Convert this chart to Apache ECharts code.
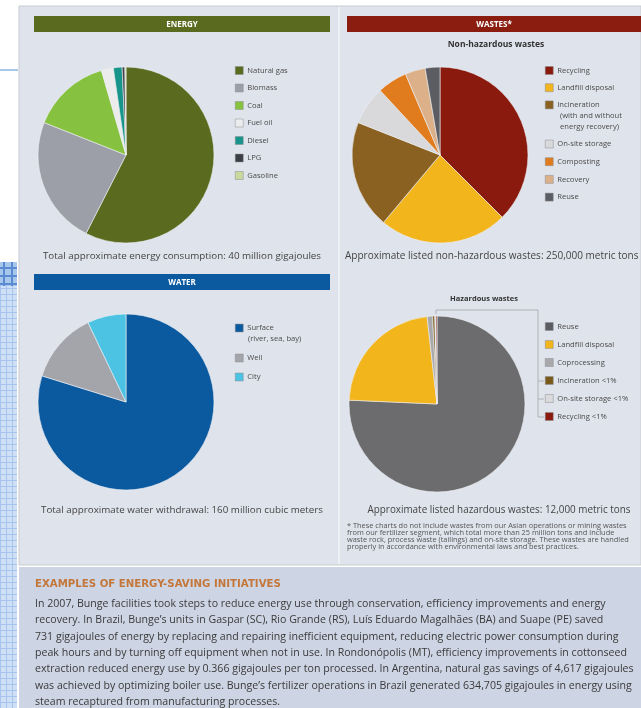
<!DOCTYPE html>
<html><head><meta charset="utf-8">
<script src="https://cdn.jsdelivr.net/npm/echarts@6/dist/echarts.min.js"></script>
<style>html,body{margin:0;padding:0;background:#fff;}#c{width:641px;height:708px;}</style>
</head><body><div id="c"></div><script>
// ---------- data ----------
const energyNames = ['Natural gas','Biomass','Coal','Fuel oil','Diesel','LPG','Gasoline'];
const energyValues = [57.5,23.5,14.5,2.2,1.6,0.5,0.2];
const energyColors = ['#5a6a1e','#9d9fa8','#86c23f','#ececec','#17958a','#3c3e46','#c9d89c'];

const nonHazNames = ['Recycling','Landfill disposal','Incineration','On-site storage','Composting','Recovery','Reuse'];
const nonHazValues = [37.5,23.6,19.9,7.1,5.5,3.7,2.7];
const nonHazColors = ['#8a1a0e','#f2b51b','#8a6120','#d9d9db','#e07c1e','#dcb088','#5c5d63'];

const waterNames = ['Surface','Well','City'];
const waterValues = [79.8,13.1,7.1];
const waterColors = ['#0b5aa0','#a3a5ab','#4dc3e3'];

const hazNames = ['Reuse','Landfill disposal','Coprocessing','Incineration <1%','On-site storage <1%','Recycling <1%'];
const hazValues = [75.7,22.5,1.0,0.4,0.2,0.2];
const hazColors = ['#6c6c6e','#f2b51b','#a9a9ab','#7a5a1a','#dadadc','#8a1a0e'];

const bodyLines = [
 'In 2007, Bunge facilities took steps to reduce energy use through conservation, efficiency improvements and energy',
 'recovery. In Brazil, Bunge\u2019s units in Gaspar (SC), Rio Grande (RS), Lu\u00eds Eduardo Magalh\u00e3es (BA) and Suape (PE) saved',
 '731 gigajoules of energy by replacing and repairing inefficient equipment, reducing electric power consumption during',
 'peak hours and by turning off equipment when not in use. In Rondon\u00f3polis (MT), efficiency improvements in cottonseed',
 'extraction reduced energy use by 0.366 gigajoules per ton processed. In Argentina, natural gas savings of 4,617 gigajoules',
 'was achieved by optimizing boiler use. Bunge\u2019s fertilizer operations in Brazil generated 634,705 gigajoules in energy using',
 'steam recaptured from manufacturing processes.'
];
const footLines = [
 '* These charts do not include wastes from our Asian operations or mining wastes',
 'from our fertilizer segment, which total more than 25 million tons and include',
 'waste rock, process waste (tailings) and on-site storage. These wastes are handled',
 'properly in accordance with environmental laws and best practices.'
];

// ---------- helpers ----------
const FONT = 'Open Sans';
function mk(names, values, colors){ return names.map((n,i)=>({name:n, value:values[i], itemStyle:{color:colors[i]}})); }
function pie(name, center, data){
  return {type:'pie', name, center, radius:88, startAngle:90, clockwise:true,
    label:{show:false}, labelLine:{show:false}, emphasis:{scale:false},
    itemStyle:{borderColor:'#eef0f4', borderWidth:0.6}, data};
}
function legend(left, top, names, gap){
  return {orient:'vertical', left, top, data:names, icon:'rect', itemWidth:8, itemHeight:8,
    itemGap:gap, padding:0, selectedMode:true,
    itemStyle:{borderColor:'#8c8c90', borderWidth:0.5},
    textStyle:{fontFamily:FONT, fontSize:7.6, color:'#4a4a4a', lineHeight:9, padding:[0,0,0,-1]}};
}
function txt(x,y,s,o){ return {type:'text', x, y, silent:true, style:Object.assign({text:s, fontFamily:FONT, fontSize:9, fill:'#444', align:'left', verticalAlign:'middle'}, o||{})}; }
function rect(x,y,w,h,fill,o){ return {type:'rect', silent:true, shape:{x,y,width:w,height:h}, style:Object.assign({fill}, o||{})}; }

// pattern for left strip
const pc = document.createElement('canvas'); pc.width=6; pc.height=6;
const g = pc.getContext('2d');
g.fillStyle='#cfe0f6'; g.fillRect(0,0,6,6);
g.fillStyle='#a6c4ec'; g.fillRect(0,0,6,1); g.fillRect(0,0,1,6);
const pc2 = document.createElement('canvas'); pc2.width=8; pc2.height=8;
const g2 = pc2.getContext('2d');
g2.fillStyle='#a9c6ec'; g2.fillRect(0,0,8,8);
g2.fillStyle='#5a8bd0'; g2.fillRect(0,3,8,2); g2.fillRect(3,0,2,8);

const chart = echarts.init(document.getElementById('c'), null, {renderer:'canvas'});
chart.setOption({
  animation:false,
  backgroundColor:'#ffffff',
  graphic:[
    // backgrounds
    rect(0,262,17,446,null,{fill:{image:pc, repeat:'repeat'}}),
    rect(0,262,17,24,null,{fill:{image:pc2, repeat:'repeat'}}),
    rect(0,69,18,2,'#a9c9ea'),
    rect(19,6,622,559,'#dfe3ec',{stroke:'#c9cbd0', lineWidth:1}),
    rect(338,7,2,557,'#eef0f4'),
    rect(19,567,622,141,'#cdd4e3'),
    // headers
    rect(34,16,296,16,'#5a6a1e'),
    txt(182,24.5,'ENERGY',{fill:'#fff', fontWeight:'bold', fontSize:8, align:'center'}),
    rect(347,16,294,16,'#8a1c10'),
    txt(494,24.5,'WASTES*',{fill:'#fff', fontWeight:'bold', fontSize:8, align:'center'}),
    rect(34,274,296,16,'#0b5aa0'),
    txt(182,282.5,'WATER',{fill:'#fff', fontWeight:'bold', fontSize:8, align:'center'}),
    txt(496,45,'Non-hazardous wastes',{fontWeight:'bold', fontSize:8.5, fill:'#333', align:'center'}),
    txt(484,299,'Hazardous wastes',{fontWeight:'bold', fontSize:7.5, fill:'#333', align:'center'}),
    // legend continuation lines
    txt(560,116,'(with and without',{fontSize:7.6, fill:'#4a4a4a'}),
    txt(560,127,'energy recovery)',{fontSize:7.6, fill:'#4a4a4a'}),
    txt(248,339,'(river, sea, bay)',{fontSize:7.6, fill:'#4a4a4a'}),
    // leader line for small hazardous slices
    {type:'polyline', silent:true, shape:{points:[[436,314],[436,310],[538,310],[538,417]]}, style:{stroke:'#a4a6ab', lineWidth:0.8, fill:null}},
    {type:'line', silent:true, shape:{x1:538,y1:381,x2:544,y2:381}, style:{stroke:'#a4a6ab', lineWidth:0.8}},
    {type:'line', silent:true, shape:{x1:538,y1:399,x2:544,y2:399}, style:{stroke:'#a4a6ab', lineWidth:0.8}},
    {type:'line', silent:true, shape:{x1:538,y1:417,x2:544,y2:417}, style:{stroke:'#a4a6ab', lineWidth:0.8}},
    // captions
    txt(182,256,'Total approximate energy consumption: 40 million gigajoules',{align:'center', fontSize:9.8}),
    txt(345,256,'Approximate listed non-hazardous wastes: 250,000 metric tons',{fontSize:10}),
    txt(182,510,'Total approximate water withdrawal: 160 million cubic meters',{align:'center', fontSize:9.8}),
    txt(499,510,'Approximate listed hazardous wastes: 12,000 metric tons',{align:'center', fontSize:9.9}),
    txt(347,536.5,footLines.join('\n'),{fontSize:7.4, lineHeight:6.8, fill:'#555'}),
    // bottom section
    txt(35,584,'EXAMPLES OF ENERGY-SAVING INITIATIVES',{fontFamily:'DejaVu Sans', fontWeight:'bold', fontSize:10.2, fill:'#c4773a'}),
    txt(35,596,bodyLines.join('\n'),{fontSize:10.6, lineHeight:16.3, fill:'#3a3a3a', verticalAlign:'top'})
  ],
  legend:[
    legend(235,66,energyNames,8.5),
    legend(545,66,nonHazNames.slice(0,3),8.2),
    legend(545,139.5,nonHazNames.slice(3),8.7),
    legend(235,323.5,['Surface'],10),
    legend(235,353.5,['Well','City'],10),
    legend(545,322,hazNames,9)
  ],
  series:[
    pie('Energy',[126,155],mk(energyNames,energyValues,energyColors)),
    pie('Non-hazardous wastes',[440,155],mk(nonHazNames,nonHazValues,nonHazColors)),
    pie('Water',[126,402],mk(waterNames,waterValues,waterColors)),
    pie('Hazardous wastes',[437,404],mk(hazNames,hazValues,hazColors))
  ]
});
</script></body></html>
